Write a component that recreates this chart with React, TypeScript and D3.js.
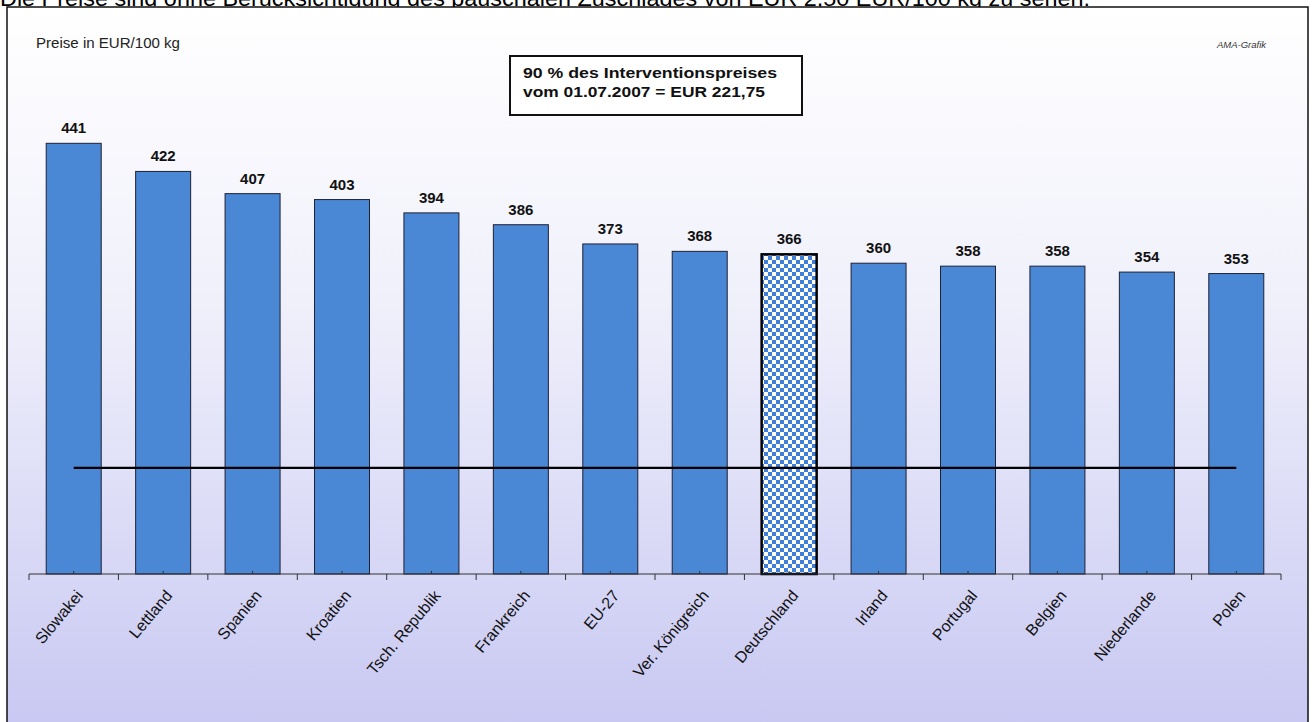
import React from "react";
import * as d3 from "d3";

const categories = ["Slowakei", "Lettland", "Spanien", "Kroatien", "Tsch. Republik", "Frankreich", "EU-27", "Ver. Königreich", "Deutschland", "Irland", "Portugal", "Belgien", "Niederlande", "Polen"];
const prices = [441, 422, 407, 403, 394, 386, 373, 368, 366, 360, 358, 358, 354, 353];
const highlighted = ["Deutschland"];
const interventionLevel = 221.75;
const yDomain = [150, 450];
const headerText = "Die Preise sind ohne Berücksichtigung des pauschalen Zuschlages von EUR 2,50 EUR/100 kg zu sehen.";
const unitLabel = "Preise in EUR/100  kg";
const sourceLabel = "AMA-Grafik";
const boxLines = ["90 % des Interventionspreises", "vom 01.07.2007 = EUR 221,75"];

const W = 1312;
const H = 722;

export default function App() {
  const x = d3.scaleBand<string>().domain(categories).range([29, 1281]).paddingInner(0.385).paddingOuter(0.1925);
  const y = d3.scaleLinear().domain(yDomain).range([574, 130]);
  const step = x.step();
  const font = "Arial, 'Liberation Sans', sans-serif";
  const first = categories[0];
  const last = categories[categories.length - 1];
  const boxWidths = [254, 242];

  return (
    <div style={{ position: "absolute", left: 0, top: 0 }}>
      <svg width={W} height={H} style={{ display: "block", fontFamily: font }}>
        <defs>
          <linearGradient id="bg" x1="0" y1="0" x2="0" y2="1">
            <stop offset="0" stopColor="#ffffff" />
            <stop offset="0.4" stopColor="#f0f0fb" />
            <stop offset="1" stopColor="#c6c6f2" />
          </linearGradient>
          <pattern id="checker" width="8" height="8" patternUnits="userSpaceOnUse">
            <rect width="8" height="8" fill="#ffffff" />
            <rect x="0" y="0" width="4" height="4" fill="#3f7fdc" />
            <rect x="4" y="4" width="4" height="4" fill="#3f7fdc" />
          </pattern>
        </defs>
        <rect x={0} y={0} width={W} height={H} fill="#ffffff" />
        <text x={0} y={6} fontSize={22} fill="#000" textLength={1090} lengthAdjust="spacingAndGlyphs">{headerText}</text>
        <rect x={7} y={7} width={1301} height={740} fill="url(#bg)" stroke="#111" strokeWidth={1.5} />

        <text x={36} y={48} fontSize={14} fill="#222" textLength={144} lengthAdjust="spacingAndGlyphs">{unitLabel}</text>
        <text x={1266} y={48} fontSize={9.5} fontStyle="italic" textAnchor="end" fill="#333">{sourceLabel}</text>

        <rect x={510} y={56} width={292} height={59} fill="#ffffff" stroke="#111" strokeWidth={2} />
        {boxLines.map((t, i) => (
          <text key={i} x={523} y={78 + i * 19} fontSize={15} fontWeight="bold" fill="#111" textLength={boxWidths[i]} lengthAdjust="spacingAndGlyphs">{t}</text>
        ))}

        {categories.map((c, i) => {
          const v = prices[i];
          const bx = x(c) as number;
          const isHi = highlighted.includes(c);
          return (
            <g key={c}>
              <rect
                x={bx}
                y={y(v)}
                width={x.bandwidth()}
                height={y(yDomain[0]) - y(v)}
                fill={isHi ? "url(#checker)" : "#4a87d4"}
                stroke={isHi ? "#000" : "#1e2235"}
                strokeWidth={isHi ? 2.5 : 1}
              />
              <text x={bx + x.bandwidth() / 2} y={y(v) - 10} fontSize={15} fontWeight="bold" textAnchor="middle" fill="#111">{v}</text>
            </g>
          );
        })}

        <line
          x1={(x(first) as number) + x.bandwidth() / 2}
          x2={(x(last) as number) + x.bandwidth() / 2}
          y1={y(interventionLevel)}
          y2={y(interventionLevel)}
          stroke="#000"
          strokeWidth={2.2}
        />

        <line x1={29} x2={1281} y1={574} y2={574} stroke="#333" strokeWidth={1.2} />
        {d3.range(categories.length + 1).map((i) => (
          <line key={"t" + i} x1={29 + i * step} x2={29 + i * step} y1={574} y2={580} stroke="#333" strokeWidth={1} />
        ))}
        {categories.map((c) => {
          const cx = (x(c) as number) + x.bandwidth() / 2;
          return <line key={"m" + c} x1={cx} x2={cx} y1={574} y2={571} stroke="#333" strokeWidth={1} />;
        })}

        {categories.map((c) => {
          const cx = (x(c) as number) + x.bandwidth() / 2 + 10;
          return (
            <text key={"l" + c} x={cx} y={596} fontSize={16} textAnchor="end" fill="#111" transform={`rotate(-50 ${cx} 596)`}>
              {c}
            </text>
          );
        })}
      </svg>
    </div>
  );
}
